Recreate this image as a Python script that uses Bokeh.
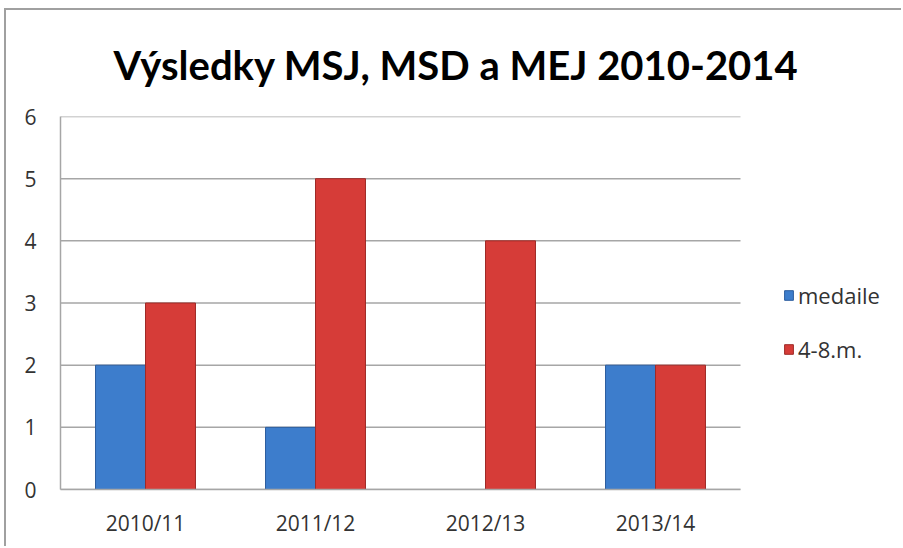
from bokeh.plotting import figure
from bokeh.models import Range1d, FixedTicker, Legend, LegendItem, ColumnDataSource
from bokeh.transform import dodge
from bokeh.embed import file_html
from bokeh.resources import INLINE

categories = ["2010/11", "2011/12", "2012/13", "2013/14"]
medaile = [2, 1, 0, 2]
mista_4_8 = [3, 5, 4, 2]
y_ticks = [0, 1, 2, 3, 4, 5, 6]

n = len(categories)
xs = [i + 0.5 for i in range(n)]
src = ColumnDataSource(dict(x=xs, medaile=medaile, m48=mista_4_8))
grid_src = ColumnDataSource(dict(y=y_ticks, x0=[0] * len(y_ticks), x1=[n] * len(y_ticks)))

W, H = 897, 538
BL, BT, BB = 54, 106, 59
frame_w = W - BL
x_end = n * frame_w / 680.0

p = figure(x_range=Range1d(0, x_end), y_range=Range1d(0, 6),
           width=W, height=H, output_backend="svg", toolbar_location=None,
           title="Výsledky MSJ, MSD a MEJ 2010-2014")
p.min_border_left = BL
p.min_border_right = 0
p.min_border_top = BT
p.min_border_bottom = BB
p.styles = {"border-left": "2px solid #a0a0a0", "border-top": "2px solid #a0a0a0",
            "margin-left": "4px", "margin-top": "8px"}

p.title.text_font = "Lato"
p.title.text_font_size = "40px"
p.title.text_font_style = "bold"
p.title.align = "left"
p.title.text_color = "#000000"
p.title.standoff = 56
p.title.offset = 53

p.segment(x0="x0", x1="x1", y0="y", y1="y", source=grid_src,
          line_color="#a6a6a6", line_width=1.5)

r1 = p.vbar(x=dodge("x", -0.147), top="medaile", width=0.294, source=src,
            fill_color="#3d7dcc", line_color="#2c5d9e", line_width=1)
r2 = p.vbar(x=dodge("x", 0.147), top="m48", width=0.294, source=src,
            fill_color="#d63c38", line_color="#9e2a27", line_width=1)

p.outline_line_color = None
p.background_fill_color = "white"
p.border_fill_color = "white"
p.xgrid.visible = False
p.ygrid.visible = False

p.yaxis.ticker = FixedTicker(ticks=y_ticks)
p.xaxis.ticker = FixedTicker(ticks=xs)
p.xaxis.major_label_overrides = {x: c for x, c in zip(xs, categories)}
p.xaxis.bounds = (0, n)

for ax in (p.xaxis, p.yaxis):
    ax.axis_line_color = "#a6a6a6"
    ax.axis_line_width = 1.5
    ax.major_tick_line_color = None
    ax.minor_tick_line_color = None
    ax.major_label_text_font = "Open Sans"
    ax.major_label_text_font_size = "21px"
    ax.major_label_text_color = "#333333"
p.yaxis.major_label_standoff = 18
p.xaxis.major_label_standoff = 13

legend = Legend(items=[LegendItem(label="medaile", renderers=[r1]),
                       LegendItem(label="4-8.m.", renderers=[r2])],
                location=(723, 125), border_line_color=None, background_fill_alpha=0,
                label_text_font="Open Sans", label_text_font_size="22px",
                label_text_color="#333333", glyph_width=11, glyph_height=12,
                spacing=24, label_standoff=4, padding=0, margin=0)
p.add_layout(legend, "center")

open("out.html", "w").write(file_html(p, INLINE))
